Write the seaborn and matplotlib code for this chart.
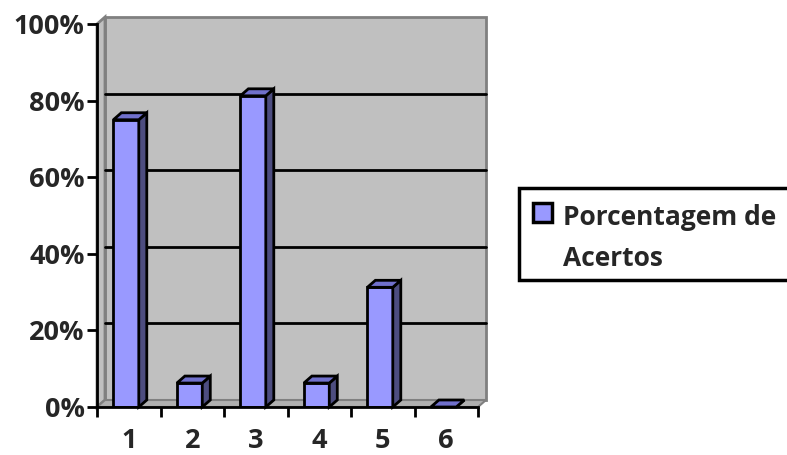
import numpy as np
import pandas as pd
import seaborn as sns
import matplotlib.pyplot as plt
from matplotlib.patches import Polygon, Rectangle

questoes = ['1', '2', '3', '4', '5', '6']
acertos = [0.75, 0.0625, 0.8125, 0.0625, 0.3125, 0.0]
y_ticks = [0, 0.2, 0.4, 0.6, 0.8, 1.0]
y_labels = ['0%', '20%', '40%', '60%', '80%', '100%']
serie = ['Porcentagem de', 'Acertos']

sns.set_style('white')
plt.rcParams['font.family'] = ['Open Sans', 'DejaVu Sans']
plt.rcParams['font.weight'] = 'bold'

df = pd.DataFrame({'questao': questoes, 'acertos': acertos})

fig = plt.figure(figsize=(7.87, 4.55), dpi=100)
ax = fig.add_axes([97 / 787, (455 - 407) / 455, 381 / 787, 383 / 455])

# profundidade do efeito 3D (em unidades de dados)
dx, dy = 8 / 63.5, 7 / 383

sns.barplot(data=df, x='questao', y='acertos', color='#9999FF', width=0.4,
            edgecolor='black', linewidth=2, saturation=1, ax=ax, zorder=3)

ax.set_xlim(-0.5, 5.5)
ax.set_ylim(0, 1)

# paredes
wall = dict(facecolor='#C0C0C0', edgecolor='#808080', lw=2, clip_on=False, zorder=0)
ax.add_patch(Polygon([(-0.5 + dx, dy), (5.5 + dx, dy), (5.5 + dx, 1 + dy), (-0.5 + dx, 1 + dy)], **wall))
ax.add_patch(Polygon([(-0.5, 0), (-0.5 + dx, dy), (-0.5 + dx, 1 + dy), (-0.5, 1)], **wall))
ax.add_patch(Polygon([(-0.5, 0), (5.5, 0), (5.5 + dx, dy), (-0.5 + dx, dy)],
                     facecolor='#B0B0B0', edgecolor='#808080', lw=1.5, clip_on=False, zorder=0.5))
for v in y_ticks[1:-1]:
    ax.plot([-0.5 + dx, 5.5 + dx], [v + dy, v + dy], color='black', lw=2, zorder=1, clip_on=False)

# faces laterais e topo das barras
for p in ax.patches[:len(acertos)]:
    p.set_x(p.get_x() - dx / 3)
    x0, w, h = p.get_x(), p.get_width(), p.get_height()
    ax.add_patch(Polygon([(x0 + w, 0), (x0 + w, h), (x0 + w + dx, h + dy), (x0 + w + dx, dy)],
                         facecolor='#4D4D80', edgecolor='black', lw=2, zorder=3, clip_on=False))
    ax.add_patch(Polygon([(x0, h), (x0 + w, h), (x0 + w + dx, h + dy), (x0 + dx, h + dy)],
                         facecolor='#7070CC', edgecolor='black', lw=2, zorder=3, clip_on=False))

for s in ['top', 'right']:
    ax.spines[s].set_visible(False)
for s in ['left', 'bottom']:
    ax.spines[s].set_linewidth(2)
    ax.spines[s].set_color('black')
    ax.spines[s].set_zorder(4)

ax.set_yticks(y_ticks)
ax.set_yticklabels(y_labels, fontsize=19.5, fontweight='bold')
ax.set_xticks(np.arange(-0.5, 6.0, 1.0))
ax.set_xticklabels([])
ax.set_xticks(np.arange(len(questoes)), minor=True)
ax.set_xticklabels(questoes, minor=True, fontsize=19.5, fontweight='bold')
ax.tick_params(axis='both', which='major', direction='out', length=7, width=2, color='black',
               left=True, bottom=True, pad=2)
ax.tick_params(axis='x', which='minor', length=0, pad=15)
ax.set_xlabel('')
ax.set_ylabel('')

# legenda desenhada à mão (caixa cortada na borda direita, como no original)
fig.patches.append(Rectangle((519 / 787, 1 - 280 / 455), 300 / 787, 92 / 455, transform=fig.transFigure,
                             facecolor='white', edgecolor='black', lw=2.5, zorder=5))
fig.patches.append(Rectangle((533 / 787, 1 - 222 / 455), 19 / 787, 19 / 455, transform=fig.transFigure,
                             facecolor='#9999FF', edgecolor='black', lw=2.5, zorder=6))
fig.text(563 / 787, 1 - 225 / 455, serie[0], fontsize=19, fontweight='bold', va='baseline', zorder=7)
fig.text(563 / 787, 1 - 266 / 455, serie[1], fontsize=19, fontweight='bold', va='baseline', zorder=7)

fig.savefig('out.png', dpi=100)
